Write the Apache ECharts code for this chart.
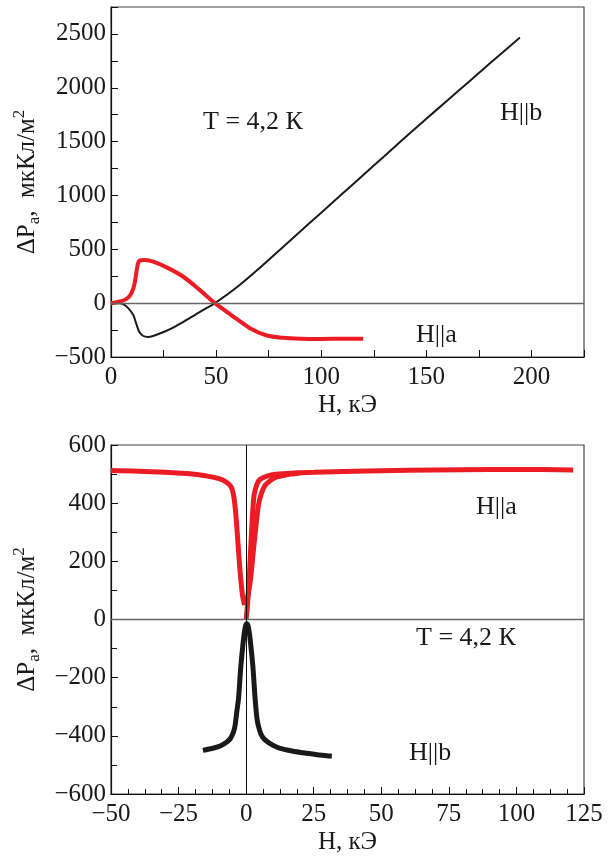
<!DOCTYPE html>
<html><head><meta charset="utf-8">
<script src="https://cdn.jsdelivr.net/npm/echarts@6/dist/echarts.min.js"></script>
<style>html,body{margin:0;padding:0;background:#fff}#c{width:614px;height:858px}</style>
</head><body><div id="c"></div>
<script>
// ---- Top panel data (H in kOe, dPa in uC/m^2) ----
const topA_H = [0, 4.3, 7, 9, 10.5, 11.4, 12.5, 13.5, 16.2, 20.1, 26.5, 34.4, 42.3, 49.5, 58.2, 66.1, 74.1, 82, 90, 100, 110, 120];
const topA_P = [0, 15, 35, 70, 130, 200, 338, 394, 400, 385, 332, 245, 121, 0, -124, -232, -300, -322, -330, -332, -331, -330];
const topB_H = [0, 4, 6, 8.2, 10.6, 12, 13.5, 15.4, 17.5, 20, 25, 30, 35, 40, 45, 49.5, 60, 70, 80, 90, 100, 110, 120, 130, 140, 150, 160, 170, 180, 190, 194.5];
const topB_P = [0, -2, -12, -46, -110, -190, -268, -305, -314, -305, -268, -222, -167, -108, -50, 0, 150, 315, 490, 665, 840, 1015, 1190, 1365, 1540, 1712, 1882, 2052, 2222, 2390, 2466];
// ---- Bottom panel data ----
const botA1_H = [-50, -40, -30, -20, -15, -10, -7, -5.5, -4.7, -4, -3.3, -2.7, -2, -1.3, -0.6];
const botA1_P = [512, 510, 506, 500, 494, 484, 470, 455, 430, 380, 300, 220, 140, 80, 50];
const botA2_H = [0, 0.5, 1, 1.5, 2, 2.5, 3, 4, 5.2, 8, 12, 20, 25, 40, 60, 80, 100, 121];
const botA2_P = [0, 50, 120, 210, 300, 380, 430, 465, 482, 494, 500, 505, 506, 510, 513, 515, 516, 514];
const botA3_H = [-0.6, 0.4, 1.5, 2.5, 3.5, 4.5, 5.5, 7, 9, 11.3, 15, 20];
const botA3_P = [50, 70, 130, 220, 310, 390, 430, 461, 478, 490, 498, 504];
const botB_H = [-16, -12, -9.6, -7, -5.9, -4.8, -4.1, -3.5, -2.8, -2, -1, -0.3, 0.2, 0.8, 1.5, 2.5, 3.3, 4, 4.6, 5.5, 7, 10, 12.6, 17, 22.4, 27, 31.7];
const botB_P = [-450, -442, -435, -420, -410, -390, -365, -320, -270, -165, -70, -25, -15, -25, -70, -162, -270, -340, -368, -395, -414, -433, -443, -452, -460, -466, -470];
// ---- tick labels / annotations ----
const topXLabelStep = 50, topYLabelStep = 500;
const annotTop = ['T = 4,2 К', 'H||b', 'H||a'];
const annotBot = ['H||a', 'T = 4,2 К', 'H||b'];
const xName = 'H, кЭ';

const zip = (a, b) => a.map((v, i) => [v, b[i]]);
const RED = '#ec1c24', BLK = '#1a1a1a';
const FONT = 'Liberation Serif';
const FS = 25;
const minus = v => v < 0 ? '\u2212' + Math.abs(v) : String(v);

const axisBase = {
  type: 'value',
  axisLine: { show: true, onZero: false, lineStyle: { color: '#111', width: 1.2 } },
  axisTick: { show: true, inside: true, length: 7, lineStyle: { color: '#111', width: 1 } },
  splitLine: { show: false },
  axisLabel: { color: '#1a1a1a', fontFamily: FONT, fontSize: FS }
};
const yName = '{n|ΔP}{sub|a}{n|,  мкКл/м}{sup|2}';
const yNameStyle = {
  color: '#1a1a1a', fontFamily: FONT, fontSize: FS,
  rich: {
    n: { fontFamily: FONT, fontSize: FS, color: '#1a1a1a', lineHeight: 32, verticalAlign: 'middle' },
    sub: { fontFamily: FONT, fontSize: 17, color: '#1a1a1a', lineHeight: 32, padding: [11, 0, 0, 0], verticalAlign: 'bottom' },
    sup: { fontFamily: FONT, fontSize: 17, color: '#1a1a1a', lineHeight: 32, padding: [0, 0, 13, 0], verticalAlign: 'top' }
  }
};
const xNameStyle = { color: '#1a1a1a', fontFamily: FONT, fontSize: FS };

const txt = (x, y, s) => ({ type: 'text', x: x, y: y, style: { text: s, font: '26px "Liberation Serif"', fill: '#1a1a1a', verticalAlign: 'middle' } });

const option = {
  animation: false,
  grid: [
    { left: 111, top: 7, width: 473, height: 350, show: true, borderColor: '#444', borderWidth: 1.2 },
    { left: 111, top: 445, width: 473, height: 349, show: true, borderColor: '#444', borderWidth: 1.2 }
  ],
  xAxis: [
    Object.assign({}, axisBase, {
      gridIndex: 0, min: 0, max: 225, interval: 25,
      name: xName, nameLocation: 'middle', nameGap: 36, nameTextStyle: xNameStyle,
      axisLabel: Object.assign({}, axisBase.axisLabel, { margin: 8, formatter: v => (v % topXLabelStep === 0 ? minus(v) : '') })
    }),
    Object.assign({}, axisBase, {
      gridIndex: 1, min: -50, max: 125, interval: 25,
      name: xName, nameLocation: 'middle', nameGap: 36, nameTextStyle: xNameStyle,
      minorTick: { show: true, splitNumber: 4, length: 5, lineStyle: { color: '#111' } },
      axisLabel: Object.assign({}, axisBase.axisLabel, { margin: 8, formatter: minus })
    })
  ],
  yAxis: [
    Object.assign({}, axisBase, {
      gridIndex: 0, min: -500, max: 2750, interval: 250,
      name: yName, nameLocation: 'middle', nameGap: 60, nameTextStyle: yNameStyle,
      axisLabel: Object.assign({}, axisBase.axisLabel, { margin: 5, formatter: v => (v % topYLabelStep === 0 ? minus(v) : '') })
    }),
    Object.assign({}, axisBase, {
      gridIndex: 1, min: -600, max: 600, interval: 200,
      name: yName, nameLocation: 'middle', nameGap: 60, nameTextStyle: yNameStyle,
      minorTick: { show: true, splitNumber: 2, length: 6, lineStyle: { color: '#111' } },
      axisLabel: Object.assign({}, axisBase.axisLabel, { margin: 5, formatter: minus })
    })
  ],
  series: [
    {
      type: 'line', xAxisIndex: 0, yAxisIndex: 0, data: zip(topB_H, topB_P), showSymbol: false, smooth: 0.25,
      lineStyle: { color: BLK, width: 2 }, z: 3,
      markLine: { silent: true, symbol: 'none', label: { show: false }, lineStyle: { color: '#666', width: 1.3, type: 'solid' }, data: [{ yAxis: 0 }] }
    },
    { type: 'line', xAxisIndex: 0, yAxisIndex: 0, data: zip(topA_H, topA_P), showSymbol: false, smooth: 0.3, lineStyle: { color: RED, width: 4 }, z: 4 },
    {
      type: 'line', xAxisIndex: 1, yAxisIndex: 1, data: zip(botB_H, botB_P), showSymbol: false, smooth: 0.3,
      lineStyle: { color: BLK, width: 5 }, z: 3,
      markLine: { silent: true, symbol: 'none', label: { show: false }, data: [
        { yAxis: 0, lineStyle: { color: '#666', width: 1.3, type: 'solid' } },
        { xAxis: 0, lineStyle: { color: '#111', width: 1, type: 'solid' } }
      ] }
    },
    { type: 'line', xAxisIndex: 1, yAxisIndex: 1, data: zip(botA1_H, botA1_P), showSymbol: false, smooth: 0.3, lineStyle: { color: RED, width: 5 }, z: 4 },
    { type: 'line', xAxisIndex: 1, yAxisIndex: 1, data: zip(botA2_H, botA2_P), showSymbol: false, smooth: 0.3, lineStyle: { color: RED, width: 5 }, z: 4 },
    { type: 'line', xAxisIndex: 1, yAxisIndex: 1, data: zip(botA3_H, botA3_P), showSymbol: false, smooth: 0.3, lineStyle: { color: RED, width: 5 }, z: 4 }
  ],
  graphic: [
    txt(203, 122, annotTop[0]), txt(500, 113, annotTop[1]), txt(416, 335, annotTop[2]),
    txt(476, 507, annotBot[0]), txt(416, 638, annotBot[1]), txt(409, 753, annotBot[2])
  ]
};
const chart = echarts.init(document.getElementById('c'), null, { renderer: 'canvas' });
chart.setOption(option);
</script></body></html>
